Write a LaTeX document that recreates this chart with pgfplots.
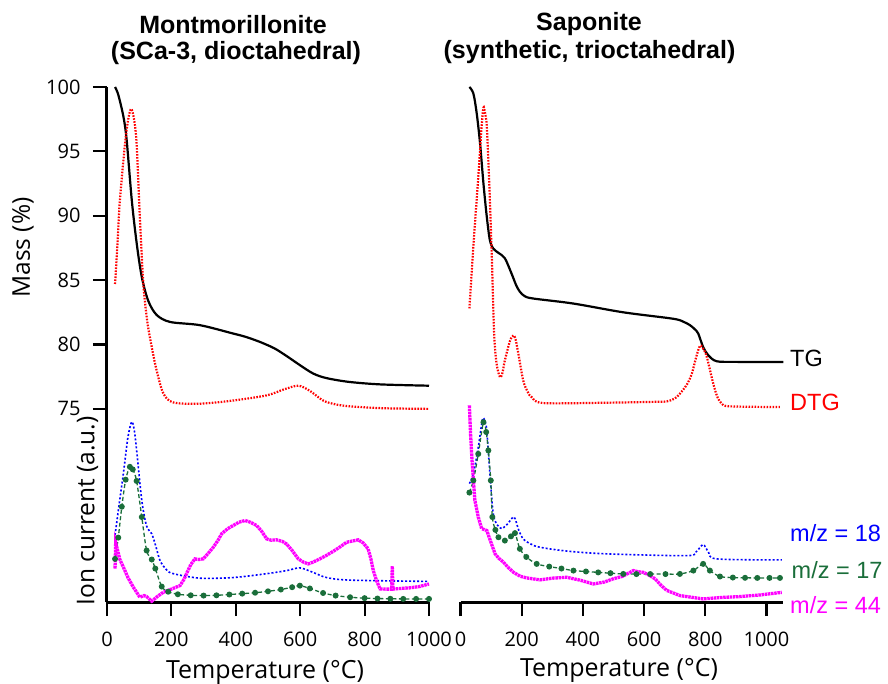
\documentclass[border=0pt]{standalone}
\usepackage{pgfplots}
\pgfplotsset{compat=1.18}
\usepackage{fontspec}
\setmainfont{Liberation Sans}
\newfontfamily\lblfont{Open Sans}
\definecolor{dtgred}{RGB}{255,0,0}
\definecolor{msblue}{RGB}{0,0,255}
\definecolor{msgreen}{RGB}{26,110,58}
\definecolor{msmag}{RGB}{255,0,255}
\tikzset{
tgline/.style={black, line width=2.2pt, smooth},
dtgline/.style={dtgred, line width=2.2pt, dash pattern=on 1.6pt off 1.4pt, smooth},
m18line/.style={msblue, line width=1.6pt, dash pattern=on 2pt off 2pt, smooth},
m17line/.style={msgreen, line width=1.3pt, dash pattern=on 4pt off 2.5pt, smooth, mark=*, mark size=2.3pt, mark options={solid}},
m44line/.style={msmag, line width=3.3pt, dash pattern=on 2.5pt off 0.7pt},
}
\begin{document}
\begin{tikzpicture}
\useasboundingbox (-107pt,-81pt) rectangle (781pt,602pt);
% ---------------- Left panel ----------------
\begin{axis}[scale only axis, width=322pt, height=515pt,
  xmin=0, xmax=1000, ymin=60, ymax=100,
  axis lines*=left,
  xtick={0,200,400,600,800,1000}, xticklabels={0,200,400,600,800,1000},
  ytick={75,80,85,90,95,100}, yticklabels={75,80,85,90,95,100},
  tick align=outside,
  major tick length=14pt,
  tick style={black, line width=2.2pt},
  axis line style={black, line width=3pt},
  ticklabel style={font=\lblfont\fontsize{20}{22}\selectfont},
  xticklabel style={yshift=-12pt},
  yticklabel style={xshift=-9pt},
  clip=false,
  at={(0pt,0pt)}, anchor=south west]
\addplot[tgline] coordinates {(25,100)(35,99.4)(51,97.7)(61,95.9)(77,91.2)(92,87.9)(108,85.25)(128,83.4)(154,82.3)(196,81.75)(289,81.5)(392,80.85)(430,80.6)(475,80.2)(520,79.7)(558,79.1)(599,78.4)(640,77.75)(680,77.4)(750,77.1)(850,76.9)(1000,76.8)};
\addplot[dtgline] coordinates {(25,84.7)(33,88)(40,91.2)(56,95.6)(66,97.5)(75,98.3)(84,97.5)(92,95.6)(102,89.9)(113,84.7)(125,81.8)(139,79.8)(154,78.0)(175,76.2)(206,75.5)(289,75.4)(392,75.65)(496,76.05)(548,76.5)(594,76.8)(630,76.4)(671,75.65)(710,75.35)(755,75.2)(858,75.05)(1000,75.0)};
\addplot[m18line] coordinates {(25,65.2)(40,68)(51,70)(65,72.8)(77,74.0)(85,73.3)(92,71.8)(108,67.9)(123,65.9)(139,65.3)(152,64.3)(165,63.2)(185,62.5)(206,62.2)(289,61.85)(392,61.9)(496,62.2)(560,62.45)(599,62.65)(640,62.3)(682,61.9)(755,61.7)(1000,61.6)};
\addplot[m17line] coordinates {(25,63.35)(35,65)(46,67.4)(58,69.5)(71,70.5)(80,70.3)(92,69.4)(108,66.6)(123,64.0)(139,63.3)(150,62.6)(170,61.2)(190,60.8)(220,60.6)(260,60.52)(300,60.5)(340,60.52)(380,60.58)(420,60.65)(460,60.72)(500,60.83)(540,60.97)(575,61.15)(599,61.27)(630,61.05)(671,60.7)(710,60.5)(755,60.37)(800,60.3)(840,60.27)(880,60.25)(920,60.24)(960,60.24)(1000,60.24)};
\addplot[m44line] coordinates {(25,62.6)(27,64.6)(33,64.0)(40,63.3)(51,62.7)(65,61.9)(82,61.14)(102,60.37)(115,60.5)(123,60.42)(139,60.06)(155,60.4)(175,60.76)(200,61.0)(227,61.28)(240,61.8)(247,62.2)(260,62.9)(273,63.35)(285,63.3)(299,63.35)(315,63.8)(330,64.25)(345,64.8)(356,65.3)(375,65.7)(392,65.94)(410,66.2)(429,66.33)(445,66.2)(465,65.94)(480,65.5)(496,64.9)(510,64.8)(527,64.83)(545,64.7)(558,64.5)(575,64.0)(594,63.35)(610,63.1)(625,62.96)(640,63.1)(661,63.35)(680,63.6)(703,63.94)(725,64.3)(744,64.64)(765,64.75)(780,64.83)(795,64.6)(811,64.13)(820,63.3)(827,62.44)(838,61.6)(848,61.02)(865,61.0)(884,61.0)(886,62.8)(888,61.0)(910,61.05)(941,61.1)(970,61.2)(1000,61.4)};
\end{axis}
% ---------------- Right panel ----------------
\begin{axis}[scale only axis, width=322.5pt, height=515pt,
  xmin=0, xmax=1054, ymin=60, ymax=100,
  axis x line*=bottom, hide y axis,
  xtick={0,200,400,600,800,1000}, xticklabels={0,200,400,600,800,1000},
  tick align=outside,
  major tick length=14pt,
  tick style={black, line width=2.2pt},
  axis line style={black, line width=3pt},
  ticklabel style={font=\lblfont\fontsize{20}{22}\selectfont},
  xticklabel style={yshift=-12pt},
  clip=false,
  at={(353.5pt,0pt)}, anchor=south west]
\addplot[tgline] coordinates {(29,100)(42,99.5)(53,97.95)(64,95.6)(75,92.5)(86,89.9)(96,88.1)(107,87.45)(125,87.1)(145,86.7)(167,85.5)(182,84.6)(194,84.1)(210,83.75)(238,83.57)(369,83.18)(532,82.5)(695,82.0)(730,81.75)(750,81.5)(765,81.2)(777,80.85)(793,79.8)(810,79.16)(837,78.7)(900,78.65)(1055,78.64)};
\addplot[dtgline] coordinates {(29,82.8)(42,87.6)(58,93.0)(69,96.9)(75,98.4)(80,98.0)(86,96.9)(94,92.5)(102,87.06)(110,80.85)(118,78.5)(129,77.47)(137,77.8)(145,78.77)(162,80.3)(173,80.7)(180,80.4)(189,79.3)(205,77.2)(220,76.3)(233,75.9)(271,75.45)(478,75.48)(640,75.55)(674,75.58)(700,75.8)(717,76.18)(740,76.9)(756,77.73)(770,79.0)(783,79.9)(795,79.6)(805,79.03)(826,76.96)(840,75.9)(854,75.4)(880,75.2)(1044,75.14)};
\addplot[m18line] coordinates {(29,69.2)(42,69.96)(58,72.0)(72,74.2)(80,74.0)(86,73.3)(96,69.96)(107,66.85)(120,66.0)(135,65.7)(155,66.1)(175,66.6)(190,65.6)(205,64.9)(230,64.5)(260,64.25)(350,63.95)(478,63.74)(739,63.6)(770,63.9)(793,64.46)(810,63.9)(837,63.35)(1050,63.27)};
\addplot[m17line] coordinates {(29,68.5)(42,69.44)(58,71.5)(75,73.97)(84,73.2)(91,71.77)(99,69.44)(104,66.6)(114,65.6)(124,65.03)(145,64.77)(165,65.1)(178,65.35)(194,64.13)(215,63.5)(249,62.96)(290,62.75)(330,62.6)(369,62.44)(410,62.37)(450,62.3)(490,62.24)(532,62.18)(575,62.17)(620,62.17)(670,62.17)(717,62.18)(761,62.44)(793,62.96)(815,62.44)(848,61.98)(890,61.9)(930,61.88)(970,61.87)(1010,61.87)(1044,61.87)};
\addplot[m44line] coordinates {(29,75.27)(33,73)(37,71.25)(42,69.5)(47,67.9)(58,66.6)(69,65.7)(86,65.55)(100,64.6)(113,63.74)(125,63.4)(140,63.1)(155,62.7)(173,62.31)(195,62.0)(216,61.87)(260,61.72)(300,61.85)(347,61.92)(390,61.7)(434,61.4)(470,61.55)(499,61.8)(530,62.0)(565,62.44)(580,62.35)(597,62.31)(615,62.1)(636,61.8)(655,61.3)(674,60.9)(717,60.5)(760,60.35)(793,60.24)(850,60.35)(913,60.42)(980,60.55)(1050,60.75)};
\end{axis}
% ---------------- Texts ----------------
\begin{scope}[every node/.style={inner sep=0pt}]
\node[font=\bfseries\fontsize{25}{27}\selectfont] at (126pt,577pt) {Montmorillonite};
\node[font=\bfseries\fontsize{25}{27}\selectfont] at (129pt,549pt) {(SCa-3, dioctahedral)};
\node[font=\bfseries\fontsize{25}{27}\selectfont] at (482pt,578pt) {Saponite};
\node[font=\bfseries\fontsize{25}{27}\selectfont] at (482.5pt,550pt) {(synthetic, trioctahedral)};
\node[font=\lblfont\fontsize{24.5}{26}\selectfont, rotate=90] at (-84pt,354.5pt) {Mass (\%)};
\node[font=\lblfont\fontsize{24.5}{26}\selectfont, rotate=90] at (-19.5pt,91pt) {Ion current (a.u.)};
\node[font=\lblfont\fontsize{25}{26}\selectfont] at (158pt,-70pt) {Temperature (°C)};
\node[font=\lblfont\fontsize{25}{26}\selectfont] at (512pt,-68pt) {Temperature (°C)};
\node[font=\fontsize{23.5}{25}\selectfont, anchor=west] at (683pt,244pt) {TG};
\node[font=\fontsize{23.5}{25}\selectfont, anchor=west, text=dtgred] at (683pt,200pt) {DTG};
\node[font=\fontsize{23.5}{25}\selectfont, anchor=west, text=msblue] at (683pt,69pt) {m/z = 18};
\node[font=\fontsize{23.5}{25}\selectfont, anchor=west, text=msgreen] at (684.5pt,32pt) {m/z = 17};
\node[font=\fontsize{23.5}{25}\selectfont, anchor=west, text=msmag] at (683pt,-3pt) {m/z = 44};
\end{scope}
\end{tikzpicture}
\end{document}
